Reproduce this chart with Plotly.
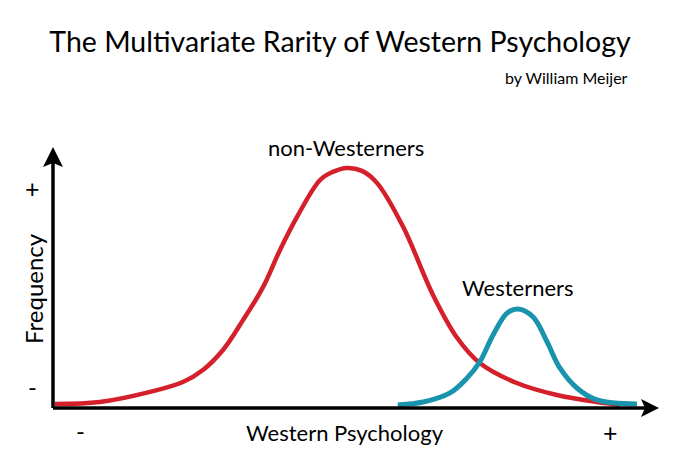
import plotly.graph_objects as go

# values (x: Western Psychology, y: Frequency, arbitrary units)
non_western_x = [0.3, 7.7, 16.0, 21.4, 24.7, 28.0, 31.3, 34.6, 37.4, 40.2, 44.0, 46.1,
                 48.4, 50.9, 53.4, 57.7, 62.6, 66.6, 70.3, 76.4, 83.0, 89.6, 93.4]
non_western_y = [1.5, 2.3, 6.2, 10.0, 14.6, 22.3, 33.8, 46.5, 60.8, 73.5, 87.7, 90.8,
                 92.3, 91.2, 86.5, 69.6, 43.5, 26.9, 17.3, 9.6, 5.0, 2.3, 1.2]

western_x = [56.8, 61.0, 65.4, 68.2, 70.3, 72.5, 74.8, 76.6, 79.1, 81.4, 83.5, 86.3, 89.6, 96.2]
western_y = [1.2, 2.3, 5.8, 11.5, 17.7, 28.1, 36.5, 38.1, 35.0, 25.4, 15.4, 7.7, 3.1, 1.5]

RED = "#d4202a"
BLUE = "#1a93ad"
FONT = "Lato"

# figure is 680x468, plot fills the whole page; one data unit = 6.07px (x), 2.6px (y)
# (page body has an 8px margin, so the origin sits at 53-8, 408-8 inside the div)
W, H = 680, 468
OFF = 8
X0, Y0, SX, SY = 53 - OFF, 408 - OFF, 6.07, 2.6


def pos(px, py):
    # px, py are window pixels
    return (px - OFF - X0) / SX, (Y0 - (py - OFF)) / SY


fig = go.Figure()

fig.add_trace(go.Scatter(x=non_western_x, y=non_western_y, mode="lines",
                         line=dict(color=RED, width=4.5, shape="spline", smoothing=1.0),
                         hoverinfo="skip"))
fig.add_trace(go.Scatter(x=western_x, y=western_y, mode="lines",
                         line=dict(color=BLUE, width=5, shape="spline", smoothing=1.0),
                         hoverinfo="skip"))

# axes with arrow heads
shapes = [
    dict(type="line", x0=0, y0=0, x1=pos(645, 0)[0], y1=0,
         line=dict(color="black", width=3.5)),
    dict(type="line", x0=0, y0=0, x1=0, y1=pos(0, 163)[1],
         line=dict(color="black", width=3.5)),
]
tx, _ = pos(659, 0)
bx, _ = pos(641, 0)
nx, _ = pos(645, 0)
hy = 9 / SY
shapes.append(dict(type="path", path=f"M {tx},0 L {bx},{hy} L {nx},0 L {bx},{-hy} Z",
                   fillcolor="black", line=dict(width=0)))
_, ty = pos(0, 147)
_, by = pos(0, 167)
_, ny = pos(0, 163)
hx = 10 / SX
shapes.append(dict(type="path", path=f"M 0,{ty} L {hx},{by} L 0,{ny} L {-hx},{by} Z",
                   fillcolor="black", line=dict(width=0)))


def label(text, px, py, size=22, **kw):
    x, y = pos(px, py)
    return dict(text=text, x=x, y=y, xref="x", yref="y", showarrow=False,
                font=dict(family=FONT, size=size, color="black"), **kw)


annotations = [
    label("non-Westerners", 346, 147),
    label("Westerners", 518, 287),
    label("Western Psychology", 345, 432),
    label("Frequency", 33, 289, size=24, textangle=-90),
    label("+", 32, 188, size=25),
    label("-", 32, 386, size=24),
    label("-", 80, 430, size=24),
    label("+", 610, 432, size=25),
    label("by William Meijer", 630, 77, size=16, xanchor="right"),
]

fig.update_layout(
    width=W, height=H,
    margin=dict(l=0, r=0, t=0, b=0),
    paper_bgcolor="white", plot_bgcolor="white",
    showlegend=False,
    title=dict(text="The Multivariate Rarity of Western Psychology",
               x=(340 - OFF) / W, xanchor="center", y=1 - (42 - OFF) / H, yanchor="middle",
               font=dict(family=FONT, size=28.5, color="black")),
    xaxis=dict(range=[-X0 / SX, (W - X0) / SX], visible=False, fixedrange=True),
    yaxis=dict(range=[(Y0 - H) / SY, Y0 / SY], visible=False, fixedrange=True),
    shapes=shapes,
    annotations=annotations,
)

fig.write_html("out.html")
